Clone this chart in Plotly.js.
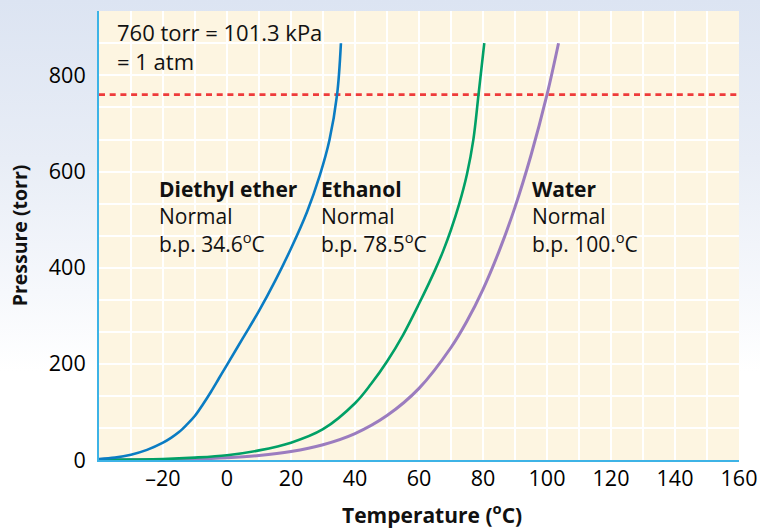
<!DOCTYPE html>
<html>
<head>
<meta charset="utf-8">
<script src="https://cdn.plot.ly/plotly-3.0.1.min.js"></script>
<style>
  html, body { margin: 0; padding: 0; }
  body { width: 760px; height: 531px; background: linear-gradient(to bottom, #dce4f2 0%, #e8edf6 30%, #f6f8fc 55%, #ffffff 70%, #ffffff 100%); }
  #chart { width: 760px; height: 531px; }
</style>
</head>
<body>
<div id="chart"></div>
<script>
// ---- data ----
const etherT   = [-40, -35, -30, -25, -20, -17.5, -15, -12.5, -10, -7.5, -5, -2.5, 0, 5, 10, 15, 20, 25, 29, 32, 34.4, 35.6];
const etherP   = [2, 5, 11, 21, 36, 46, 58, 74, 92, 116, 142, 170, 198, 254, 310, 372, 440, 516, 592, 665, 760, 867];

const ethanolT = [-40, -30, -20, -10, 0, 10, 20, 30, 40, 45, 50, 55, 60, 65, 67.5, 70, 72.5, 75, 77, 78.6, 80.4];
const ethanolP = [0.5, 1, 2, 5, 10, 20, 36, 64, 118, 158, 205, 260, 325, 395, 434, 479, 531, 595, 667, 760, 867];

const waterT   = [-40, -30, -20, -10, 0, 10, 20, 30, 40, 50, 60, 70, 75, 80, 85, 90, 95, 100, 103.6];
const waterP   = [0.1, 0.3, 0.8, 2, 4.6, 9.2, 17.5, 31.8, 55, 92.5, 149, 234, 289, 355, 434, 526, 634, 760, 867];

const atmLineT = [-40, 160];
const atmLineP = [760, 760];

const xTickVals = [-20, 0, 20, 40, 60, 80, 100, 120, 140, 160];
const yTickVals = [0, 200, 400, 600, 800];

const labelNames = ['Diethyl ether', 'Ethanol', 'Water'];
const labelBP    = ['34.6', '78.5', '100.'];
const labelX     = [-22, 28.8, 94.8];
const labelY     = 598;

const noteText = '760 torr = 101.3 kPa<br>= 1 atm';
const noteX = -35, noteY = 926;

const xTitle = '<b>Temperature (<sup>o</sup>C)</b>';
const yTitle = '<b>Pressure (torr)</b>';

// ---- chart ----
const FONT = 'Open Sans, Noto Sans, sans-serif';
const W = 760, H = 531, M = { l: 99, r: 21, t: 11, b: 71 };
const traces = [
  { x: atmLineT, y: atmLineP, mode: 'lines', line: { color: '#ee3b3b', width: 2.6, dash: '6px,4.7px' }, hoverinfo: 'skip' },
  { x: waterT, y: waterP, mode: 'lines', line: { color: '#9b7cbf', width: 3, shape: 'spline', smoothing: 1 }, name: 'Water' },
  { x: ethanolT, y: ethanolP, mode: 'lines', line: { color: '#00a066', width: 2.6, shape: 'spline', smoothing: 1 }, name: 'Ethanol' },
  { x: etherT, y: etherP, mode: 'lines', line: { color: '#0a7cc3', width: 2.6, shape: 'spline', smoothing: 1 }, name: 'Diethyl ether' }
];

const annotations = labelNames.map((n, i) => ({
  x: labelX[i], y: labelY, xref: 'x', yref: 'y', xanchor: 'left', yanchor: 'top', align: 'left',
  showarrow: false,
  text: '<b>' + n + '</b><br>Normal<br>b.p. ' + labelBP[i] + '<sup>o</sup>C',
  font: { family: FONT, size: 21, color: '#111' }
}));
annotations.push({
  x: noteX, y: noteY, xref: 'x', yref: 'y', xanchor: 'left', yanchor: 'top', align: 'left',
  showarrow: false, text: noteText, font: { family: FONT, size: 22, color: '#111' }
});
// x-axis title, placed slightly right of centre as in the reference
annotations.push({
  x: 0.52, y: (H - M.b - 513) / (H - M.b - M.t), xref: 'paper', yref: 'paper', yanchor: 'middle', xanchor: 'center',
  showarrow: false, text: xTitle, font: { family: FONT, size: 21, color: '#111' }
});

const layout = {
  width: W, height: H,
  margin: M,
  paper_bgcolor: 'rgba(0,0,0,0)',
  plot_bgcolor: '#fdf5e1',
  showlegend: false,
  font: { family: FONT, size: 21, color: '#111' },
  xaxis: {
    range: [-40, 160], tickmode: 'array', tickvals: xTickVals,
    ticktext: xTickVals.map(v => v < 0 ? '\u2013' + Math.abs(v) : String(v)),
    showgrid: true, gridcolor: '#ffffff', gridwidth: 2,
    minor: { tickmode: 'linear', tick0: -40, dtick: 10, showgrid: true, gridcolor: '#ffffff', gridwidth: 2, ticks: '' },
    showline: true, linecolor: '#3db3e6', linewidth: 2, zeroline: false,
    ticks: 'outside', ticklen: 1, tickcolor: 'rgba(0,0,0,0)', ticklabelstandoff: -3,
    tickfont: { family: FONT, size: 21.5, color: '#000' },
    fixedrange: true
  },
  yaxis: {
    range: [0, 934], tickmode: 'array', tickvals: yTickVals,
    showgrid: true, gridcolor: '#ffffff', gridwidth: 2,
    minor: { tickmode: 'linear', tick0: 0, dtick: 200 / 3, showgrid: true, gridcolor: '#ffffff', gridwidth: 2, ticks: '' },
    showline: true, linecolor: '#3db3e6', linewidth: 2, zeroline: false,
    ticks: 'outside', ticklen: 7, tickcolor: 'rgba(0,0,0,0)',
    tickfont: { family: FONT, size: 21.5, color: '#000' },
    title: { text: yTitle, font: { family: FONT, size: 19.5, color: '#111' }, standoff: 16 },
    fixedrange: true
  },
  annotations: annotations
};

Plotly.newPlot('chart', traces, layout, { displayModeBar: false, staticPlot: true });
</script>
</body>
</html>
